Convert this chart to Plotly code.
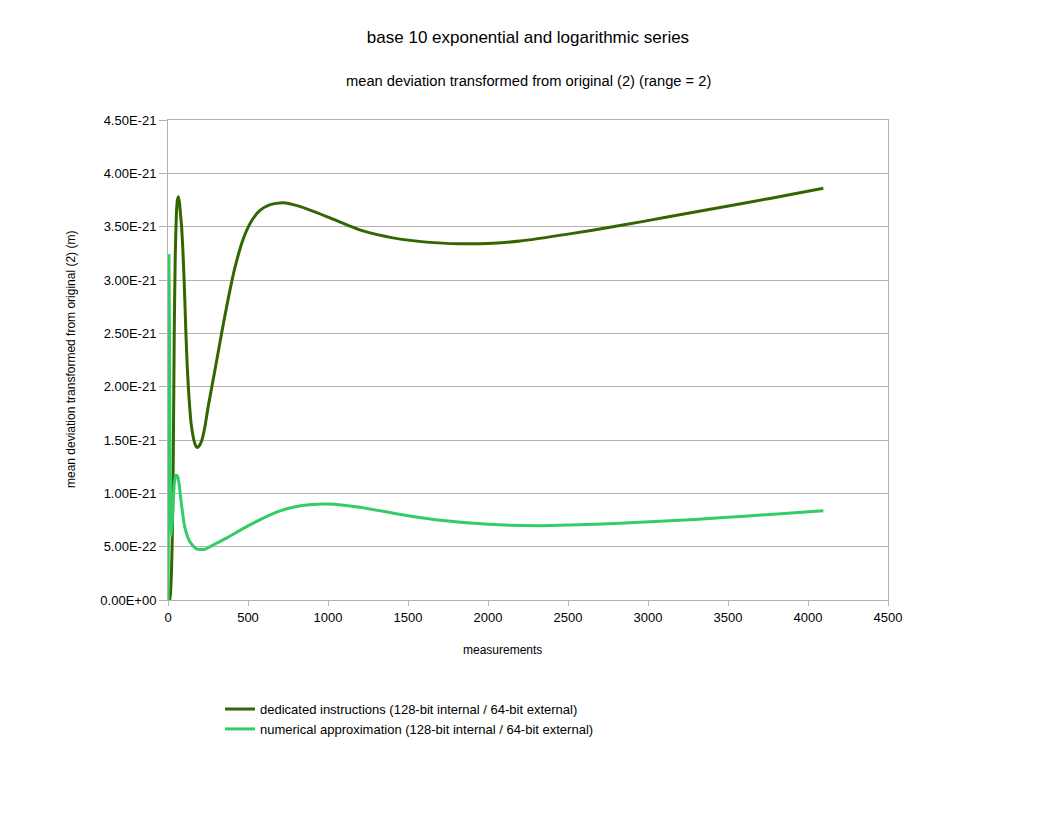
import plotly.graph_objects as go

# values, y in units of 1e-21 m
dedicated_x = [1, 10, 20, 28, 33, 39, 45, 52, 58, 65, 72, 78, 85, 93, 102, 112, 120, 127, 135,
               144, 155, 165, 175, 183, 195, 210, 230, 252, 294, 335, 377, 419, 469, 521, 573,
               635, 719, 823, 1000, 1198, 1406, 1615, 1823, 2031, 2200, 2500, 2825, 3137, 3450,
               3762, 4096]
dedicated_y = [0.0, 0.0, 0.2, 0.7, 1.34, 2.5, 3.2, 3.6, 3.74, 3.78, 3.72, 3.62, 3.5, 3.28, 2.95,
               2.5, 2.2, 2.0, 1.82, 1.66, 1.55, 1.48, 1.44, 1.43, 1.445, 1.49, 1.62, 1.82, 2.16,
               2.5, 2.83, 3.12, 3.38, 3.55, 3.65, 3.705, 3.725, 3.69, 3.59, 3.47, 3.395, 3.355,
               3.34, 3.345, 3.365, 3.43, 3.51, 3.595, 3.68, 3.765, 3.86]

numerical_x = [1, 3, 6, 10, 15, 20, 27, 35, 43, 50, 60, 70, 83, 104, 135, 177, 229, 281, 365,
               500, 635, 700, 781, 880, 1000, 1198, 1500, 1719, 2000, 2323, 2512, 2825, 3137,
               3450, 3762, 4096]
numerical_y = [0.0, 1.4, 3.23, 2.2, 0.9, 0.6, 0.75, 1.0, 1.13, 1.17, 1.16, 1.08, 0.91, 0.69,
               0.55, 0.48, 0.475, 0.515, 0.58, 0.695, 0.795, 0.835, 0.87, 0.893, 0.9, 0.87,
               0.79, 0.745, 0.71, 0.697, 0.703, 0.72, 0.742, 0.77, 0.802, 0.837]

y_ticks = [0.0, 0.5, 1.0, 1.5, 2.0, 2.5, 3.0, 3.5, 4.0, 4.5]
y_tick_labels = ["0.00E+00", "5.00E-22", "1.00E-21", "1.50E-21", "2.00E-21", "2.50E-21",
                 "3.00E-21", "3.50E-21", "4.00E-21", "4.50E-21"]

font_name = "Liberation Sans, Arial, sans-serif"

fig = go.Figure()
fig.add_trace(go.Scatter(x=dedicated_x, y=[v * 1e-21 for v in dedicated_y], mode="lines",
                         name="dedicated instructions (128-bit internal / 64-bit external)",
                         line=dict(color="#336600", width=3, shape="spline", smoothing=0.6)))
fig.add_trace(go.Scatter(x=numerical_x, y=[v * 1e-21 for v in numerical_y], mode="lines",
                         name="numerical approximation (128-bit internal / 64-bit external)",
                         line=dict(color="#33cc66", width=3, shape="spline", smoothing=0.6)))

# the page body adds 8px, so the figure is shifted up/left by that much
fig.update_layout(
    width=1056, height=816,
    margin=dict(l=160, r=176, t=112, b=224),
    paper_bgcolor="white", plot_bgcolor="white",
    font=dict(family=font_name, size=12, color="black"),
    title=dict(text="base 10 exponential and logarithmic series", x=(528 - 8) / 1056,
               xanchor="center", y=1 - 29 / 816, yanchor="middle", font=dict(size=17)),
    showlegend=True,
    legend=dict(x=(220 - 168) / 720, y=-0.196, xanchor="left", yanchor="top",
                font=dict(size=13), bgcolor="rgba(0,0,0,0)"),
)
fig.add_annotation(text="mean deviation transformed from original (2) (range = 2)",
                   xref="paper", yref="paper", x=0.5, y=1 + 39 / 480, showarrow=False,
                   font=dict(size=14.7), yanchor="middle")
fig.add_annotation(text="measurements", xref="paper", yref="paper", x=(502 - 168) / 720,
                   y=-50 / 480, showarrow=False, font=dict(size=12), yanchor="middle")
fig.add_annotation(text="mean deviation transformed from original (2) (m)", xref="paper",
                   yref="paper", x=(71 - 168) / 720, y=0.5, textangle=-90, showarrow=False,
                   font=dict(size=12), xanchor="center")

fig.update_xaxes(range=[0, 4500], dtick=500, tick0=0, showgrid=False, zeroline=False,
                 showline=True, linecolor="#b3b3b3", mirror=True, ticks="outside",
                 ticklen=5, tickcolor="#b3b3b3", tickfont=dict(size=13))
fig.update_yaxes(range=[0, 4.5e-21], tickvals=[v * 1e-21 for v in y_ticks],
                 ticktext=y_tick_labels, showgrid=True, gridcolor="#b3b3b3", zeroline=False,
                 showline=True, linecolor="#b3b3b3", mirror=True, ticks="outside", ticklen=8,
                 tickcolor="#b3b3b3", tickfont=dict(size=13))

fig.write_html("out.html")
